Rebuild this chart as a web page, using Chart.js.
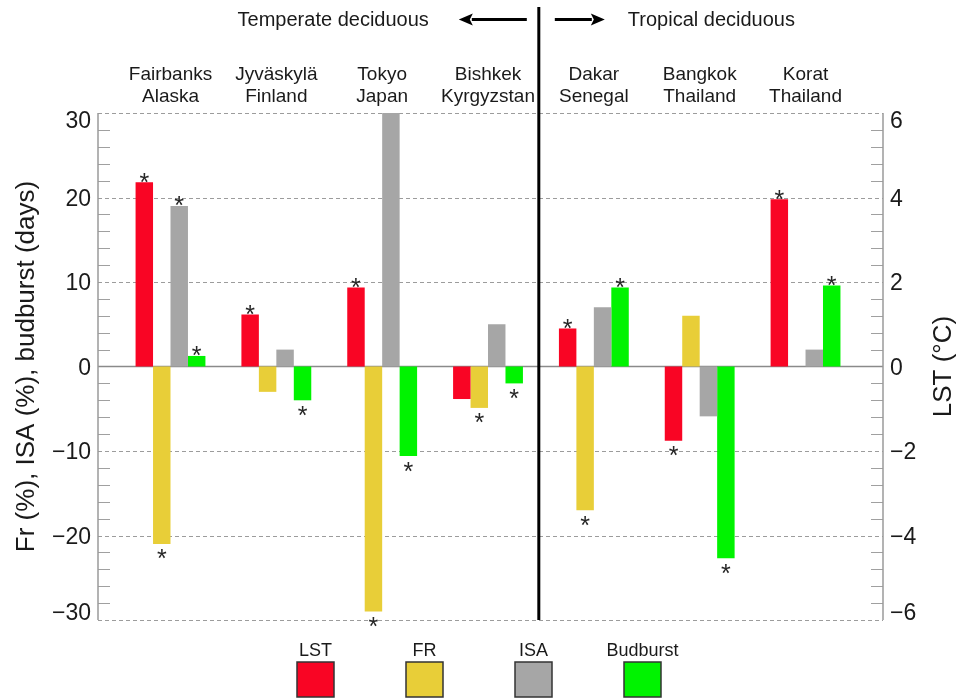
<!DOCTYPE html>
<html>
<head>
<meta charset="utf-8">
<title>Urban effects on phenology</title>
<script src="https://cdn.jsdelivr.net/npm/chart.js@4.4.1/dist/chart.umd.min.js"></script>
<style>
  html, body { margin: 0; padding: 0; background: #ffffff; }
  #wrap { width: 960px; height: 699px; }
</style>
</head>
<body>
<div id="wrap"><canvas id="c" width="960" height="699"></canvas></div>
<script>
// ---- data ----
const sites = [
  ['Fairbanks', 'Alaska'],
  ['Jyväskylä', 'Finland'],
  ['Tokyo', 'Japan'],
  ['Bishkek', 'Kyrgyzstan'],
  ['Dakar', 'Senegal'],
  ['Bangkok', 'Thailand'],
  ['Korat', 'Thailand']
];
const seriesNames = ['LST', 'FR', 'ISA', 'Budburst'];

// LST difference (°C, right axis)
const lst      = [4.36, 1.23, 1.87, -0.77, 0.90, -1.76, 3.96];
// forest fraction change (%), impervious surface area (%), budburst shift (days)
const fr       = [-21.0, -3.0, -29.0, -4.9, -17.0, 6.0, null];
const isa      = [19.0, 2.0, 30.0, 5.0, 7.0, -5.9, 2.0];
const budburst = [1.25, -4.0, -10.6, -2.0, 9.35, -22.7, 9.6];

// significance flags (asterisks)
const lstSig      = [true, true, true, false, true, true, true];
const frSig       = [true, false, true, true, true, false, false];
const isaSig      = [true, false, false, false, false, false, false];
const budburstSig = [true, true, true, true, true, true, true];

const leftTicks  = [-30, -20, -10, 0, 10, 20, 30];
const rightTicks = [-6, -4, -2, 0, 2, 4, 6];
const regionTitles = ['Temperate deciduous', 'Tropical deciduous'];
const dividerAt = 3.48;   // boundary between the two forest types on the site axis

const colors = ['#F90524', '#E8CE38', '#A6A6A6', '#00F300'];

// ---- helpers ----
const FONT = "'Liberation Sans', Arial, Helvetica, sans-serif";
const minus = v => (v < 0 ? '\u2212' + Math.abs(v) : String(v));
const toPoints = arr => arr.map((v, i) => ({ x: i, y: v }));

function line(ctx, x0, y0, x1, y1) {
  ctx.beginPath(); ctx.moveTo(x0, y0); ctx.lineTo(x1, y1); ctx.stroke();
}
function arrow(ctx, tail, tip, y) {
  const dir = Math.sign(tip - tail);
  const headLen = 14, halfW = 6;
  ctx.lineWidth = 3;
  line(ctx, tail, y, tip - dir * headLen + dir, y);
  ctx.beginPath();
  ctx.moveTo(tip, y);
  ctx.lineTo(tip - dir * headLen, y - halfW);
  ctx.lineTo(tip - dir * headLen + dir * 3, y);
  ctx.lineTo(tip - dir * headLen, y + halfW);
  ctx.closePath();
  ctx.fill();
}

// ---- frame, grid, ticks and annotations ----
const decor = {
  id: 'decor',
  beforeDatasetsDraw(chart) {
    const { ctx, chartArea: a, scales: { y } } = chart;
    ctx.save();
    // dashed gridlines at labelled values
    ctx.strokeStyle = '#9c9c9c';
    ctx.lineWidth = 1;
    ctx.setLineDash([4, 3]);
    leftTicks.forEach(v => {
      if (v === 0) return;
      const py = Math.round(y.getPixelForValue(v)) + 0.5;
      line(ctx, a.left, py, a.right, py);
    });
    ctx.setLineDash([]);
    // minor ticks, inward on both sides
    ctx.strokeStyle = '#a0a0a0';
    for (let v = -28; v <= 28; v += 2) {
      if (v % 10 === 0) continue;
      const py = Math.round(y.getPixelForValue(v)) + 0.5;
      line(ctx, a.left, py, a.left + 12, py);
      line(ctx, a.right - 12, py, a.right, py);
    }
    // zero line
    ctx.strokeStyle = '#8a8a8a';
    ctx.lineWidth = 1.5;
    const pz = y.getPixelForValue(0);
    line(ctx, a.left, pz, a.right, pz);
    // side axes
    ctx.strokeStyle = '#9a9a9a';
    ctx.lineWidth = 1.5;
    line(ctx, a.left, a.top, a.left, a.bottom);
    line(ctx, a.right, a.top, a.right, a.bottom);
    ctx.restore();
  },
  afterDatasetsDraw(chart) {
    const { ctx, chartArea: a, scales: { x, y, y2 } } = chart;
    ctx.save();

    // significance asterisks at bar ends
    const sigs = [lstSig, frSig, isaSig, budburstSig];
    const series = [lst, fr, isa, budburst];
    ctx.fillStyle = '#262626';
    ctx.font = '25px ' + FONT;
    ctx.textAlign = 'center';
    ctx.textBaseline = 'alphabetic';
    sigs.forEach((flags, d) => {
      const meta = chart.getDatasetMeta(d);
      flags.forEach((on, i) => {
        const v = series[d][i];
        if (!on || v === null) return;
        const el = meta.data[i];
        // asterisk glyph sits high in the em box: baseline ~14px below its centre
        const cy = v > 0 ? el.y - 6 : el.y + 9;
        ctx.fillText('*', el.x, cy + 14.5);
      });
    });

    // tick labels (end labels kept inside the frame)
    ctx.fillStyle = '#1a1a1a';
    ctx.font = '23px ' + FONT;
    const base = py => Math.min(Math.max(py + 8.3, a.top + 15), a.bottom);
    ctx.textAlign = 'right';
    leftTicks.forEach(v => ctx.fillText(minus(v), a.left - 7, base(y.getPixelForValue(v))));
    ctx.textAlign = 'left';
    rightTicks.forEach(v => ctx.fillText(minus(v), a.right + 7, base(y2.getPixelForValue(v))));

    // right axis title, reading upwards
    ctx.save();
    ctx.font = '26px ' + FONT;
    ctx.textAlign = 'center';
    ctx.textBaseline = 'middle';
    ctx.translate(944, (a.top + a.bottom) / 2);
    ctx.rotate(-Math.PI / 2);
    ctx.fillText('LST (\u00B0C)', 0, 0);
    ctx.restore();

    // site names above the frame
    ctx.font = '19px ' + FONT;
    ctx.textAlign = 'center';
    ctx.textBaseline = 'alphabetic';
    sites.forEach((s, i) => {
      const px = x.getPixelForValue(i);
      ctx.fillText(s[0], px, 80);
      ctx.fillText(s[1], px, 102);
    });

    // divider between the forest types
    const dx = x.getPixelForValue(dividerAt);
    ctx.strokeStyle = '#000';
    ctx.fillStyle = '#000';
    ctx.lineWidth = 3;
    line(ctx, dx, 7, dx, a.bottom);

    // region headings with arrows
    arrow(ctx, dx - 12, dx - 80, 19.5);
    arrow(ctx, dx + 16, dx + 66, 19.5);
    ctx.fillStyle = '#1a1a1a';
    ctx.font = '20px ' + FONT;
    ctx.textAlign = 'right';
    ctx.fillText(regionTitles[0], dx - 110, 26);
    ctx.textAlign = 'left';
    ctx.fillText(regionTitles[1], dx + 89, 26);

    // legend: name above a framed swatch
    const cx0 = 315.5, step = 109, w = 37, h = 35, top = 662;
    ctx.font = '18px ' + FONT;
    ctx.textAlign = 'center';
    seriesNames.forEach((name, i) => {
      const cx = cx0 + i * step;
      ctx.fillStyle = '#1a1a1a';
      ctx.fillText(name, cx, 656);
      ctx.fillStyle = colors[i];
      ctx.fillRect(cx - w / 2, top, w, h);
      ctx.strokeStyle = '#333';
      ctx.lineWidth = 1.5;
      ctx.strokeRect(cx - w / 2, top, w, h);
    });

    ctx.restore();
  }
};

// ---- chart ----
Chart.defaults.font.family = FONT;
Chart.defaults.color = '#1a1a1a';

const datasets = [
  { label: seriesNames[0], data: toPoints(lst),      yAxisID: 'y2', backgroundColor: colors[0] },
  { label: seriesNames[1], data: toPoints(fr),       yAxisID: 'y',  backgroundColor: colors[1] },
  { label: seriesNames[2], data: toPoints(isa),      yAxisID: 'y',  backgroundColor: colors[2] },
  { label: seriesNames[3], data: toPoints(budburst), yAxisID: 'y',  backgroundColor: colors[3] }
];

new Chart(document.getElementById('c'), {
  type: 'bar',
  data: { datasets },
  options: {
    responsive: false,
    animation: false,
    devicePixelRatio: 1,
    events: [],
    layout: { padding: { top: 113, bottom: 79, left: 0, right: 0 } },
    datasets: { bar: { categoryPercentage: 0.66, barPercentage: 1.0, borderWidth: 0 } },
    plugins: { legend: { display: false }, tooltip: { enabled: false } },
    scales: {
      x: {
        type: 'linear',
        min: -0.685,
        max: 6.732,
        offset: false,
        bounds: 'data',
        grid: { offset: false },
        display: false,
        // one tick per site
        afterBuildTicks(s) { s.ticks = sites.map((_, i) => ({ value: i })); }
      },
      y: {
        position: 'left',
        min: -30, max: 30,
        ticks: { display: false, stepSize: 10 },
        grid: { display: false, drawTicks: false },
        border: { display: false },
        title: {
          display: true,
          text: 'Fr (%), ISA (%), budburst (days)',
          font: { size: 26 },
          color: '#1a1a1a',
          padding: { top: 11, bottom: 0 }
        },
        afterFit(s) { s.width = 98; }
      },
      y2: {
        position: 'right',
        min: -6, max: 6,
        ticks: { display: false, stepSize: 2 },
        grid: { display: false, drawTicks: false },
        border: { display: false },
        afterFit(s) { s.width = 77; }
      }
    }
  },
  plugins: [decor]
});
</script>
</body>
</html>
